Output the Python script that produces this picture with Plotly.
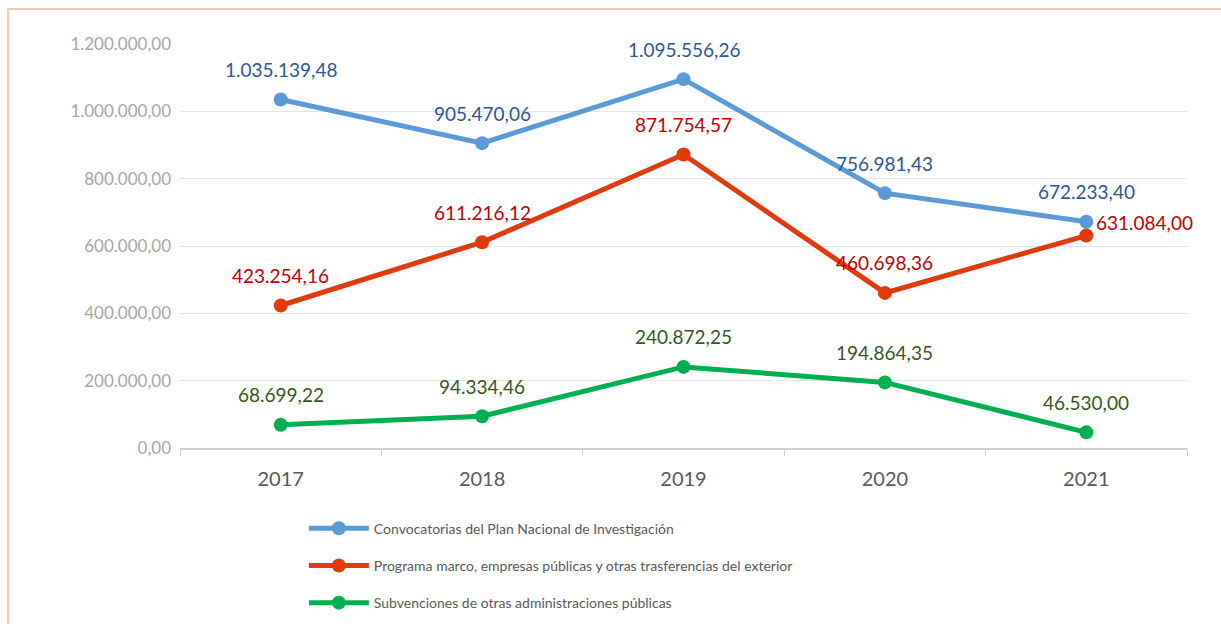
import plotly.graph_objects as go

years = ["2017", "2018", "2019", "2020", "2021"]
convocatorias = [1035139.48, 905470.06, 1095556.26, 756981.43, 672233.40]
programa = [423254.16, 611216.12, 871754.57, 460698.36, 631084.00]
subvenciones = [68699.22, 94334.46, 240872.25, 194864.35, 46530.00]
names = [
    "Convocatorias del Plan Nacional de Investigación",
    "Programa marco, empresas públicas y otras trasferencias del exterior",
    "Subvenciones de otras administraciones públicas",
]
line_colors = ["#5B9BD5", "#E03A0E", "#00B050"]
label_colors = ["#2F5597", "#C00000", "#375623"]

def fmt(v):
    s = f"{v:,.2f}"
    return s.replace(",", "X").replace(".", ",").replace("X", ".")

FONT = "Lato, Open Sans, sans-serif"
fig = go.Figure()
annotations = []
for k, (series, name, lc, tc) in enumerate(zip([convocatorias, programa, subvenciones], names, line_colors, label_colors)):
    fig.add_trace(go.Scatter(
        x=years, y=series, name=name, mode="lines+markers", legendgroup=f"g{k}",
        line=dict(color=lc, width=5), marker=dict(color=lc, size=14),
    ))
    for i, v in enumerate(series):
        if series is programa and i == len(years) - 1:
            annotations.append(dict(x=i, y=v, text=fmt(v), showarrow=False,
                                    xanchor="left", yanchor="middle", xshift=8, yshift=13,
                                    font=dict(family=FONT, size=19, color=tc)))
        else:
            annotations.append(dict(x=i, y=v, text=fmt(v), showarrow=False,
                                    xanchor="center", yanchor="middle", yshift=30,
                                    font=dict(family=FONT, size=19, color=tc)))

fig.update_layout(
    width=1221, height=624,
    margin=dict(l=180, r=34, t=44, b=176, autoexpand=False),
    paper_bgcolor="white", plot_bgcolor="white",
    separators=",.",
    font=dict(family=FONT),
    showlegend=True,
    legend=dict(orientation="v", x=0.123, y=-0.16, xanchor="left", yanchor="top",
                font=dict(family=FONT, size=14, color="#595959"),
                itemwidth=60, traceorder="grouped", tracegroupgap=16),
    annotations=annotations,
    shapes=[dict(type="rect", xref="paper", yref="paper",
                 x0=-0.1708, x1=1.2, y0=-1.0, y1=1.0866,
                 line=dict(color="#F8CBAD", width=2), layer="below")],
)
fig.update_yaxes(range=[0, 1200000], dtick=200000, tickformat=",.2f",
                 showgrid=True, gridcolor="#E4E4E4", gridwidth=1,
                 zeroline=False, showline=False,
                 tickfont=dict(family=FONT, size=17, color="#A6A6A6"),
                 ticklabelstandoff=8)
fig.update_xaxes(type="category", categoryarray=years, categoryorder="array",
                 range=[-0.5, len(years) - 0.5],
                 showgrid=False, showline=True,
                 linecolor="#D0D0D0", linewidth=1.5,
                 ticks="outside", tickson="boundaries", ticklen=6, tickcolor="#D0D0D0",
                 ticklabelstandoff=12,
                 tickfont=dict(family=FONT, size=20, color="#595959"))

post = ("document.documentElement.style.margin='0';"
        "document.body.style.margin='0';"
        "document.documentElement.style.overflow='hidden';"
        "document.body.style.overflow='hidden';")
fig.write_html("out.html", post_script=post, config={"displayModeBar": False})
